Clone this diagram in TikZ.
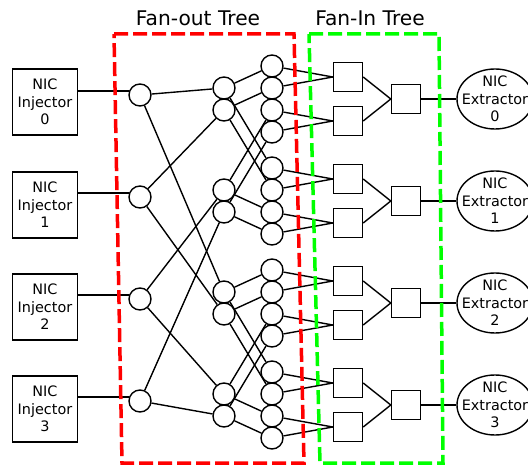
\documentclass[tikz,border=0pt]{standalone}
\usepackage{fontspec}
\setmainfont{DejaVu Sans}
\usepackage{tikz}
\usetikzlibrary{shapes.geometric}

\begin{document}
\begin{tikzpicture}[
			x=1pt, y=-1pt, line width=1.4pt,
			injector/.style={rectangle, draw, minimum width=65pt, minimum height=66pt, inner sep=0pt, align=center, font=\fontsize{14.4}{17.5}\selectfont},
			splitter/.style={circle, draw, minimum size=22pt, inner sep=0pt},
			mergebox/.style={rectangle, draw, minimum size=29pt, inner sep=0pt},
			extractor/.style={ellipse, draw, minimum width=76pt, minimum height=60pt, inner sep=0pt},
			extractor text/.style={align=center, inner sep=0pt, font=\fontsize{14.4}{17.5}\selectfont},
			description/.style={anchor=base, inner sep=0pt, font=\fontsize{20.2}{24}\selectfont},
			fanout border/.style={draw=red, line width=3.5pt, dash pattern=on 14pt off 5pt},
			fanin border/.style={draw=green, line width=3.5pt, dash pattern=on 14pt off 5pt},
			]
			\useasboundingbox (0,0) rectangle (528,465);
			%Nodes
				\node[description]	(fanout-title)	at (198,26)		{Fan-out Tree};
				\node[description]	(fanin-title)	at (370,26)		{Fan-In Tree};
				\node[injector]		(injector-0)	at (45,102)		{NIC\\Injector\\0};
				\node[injector]		(injector-1)	at (45,205)		{NIC\\Injector\\1};
				\node[injector]		(injector-2)	at (45,307)		{NIC\\Injector\\2};
				\node[injector]		(injector-3)	at (45,409)		{NIC\\Injector\\3};
				\node[splitter]		(fanout-0)		at (140,95)		{};
				\node[splitter]		(fanout-1)		at (140,197)	{};
				\node[splitter]		(fanout-2)		at (140,299)	{};
				\node[splitter]		(fanout-3)		at (140,401)	{};
				\node[splitter]		(branch-0)		at (224,88)		{};
				\node[splitter]		(branch-1)		at (224,110)	{};
				\node[splitter]		(branch-2)		at (224,190)	{};
				\node[splitter]		(branch-3)		at (224,212)	{};
				\node[splitter]		(branch-4)		at (224,292)	{};
				\node[splitter]		(branch-5)		at (224,314)	{};
				\node[splitter]		(branch-6)		at (224,394)	{};
				\node[splitter]		(branch-7)		at (224,416)	{};
				\node[splitter]		(leaf-0)		at (272,66)		{};
				\node[splitter]		(leaf-1)		at (272,88)		{};
				\node[splitter]		(leaf-2)		at (272,110)	{};
				\node[splitter]		(leaf-3)		at (272,132)	{};
				\node[splitter]		(leaf-4)		at (272,168)	{};
				\node[splitter]		(leaf-5)		at (272,190)	{};
				\node[splitter]		(leaf-6)		at (272,212)	{};
				\node[splitter]		(leaf-7)		at (272,234)	{};
				\node[splitter]		(leaf-8)		at (272,270)	{};
				\node[splitter]		(leaf-9)		at (272,292)	{};
				\node[splitter]		(leaf-10)		at (272,314)	{};
				\node[splitter]		(leaf-11)		at (272,336)	{};
				\node[splitter]		(leaf-12)		at (272,372)	{};
				\node[splitter]		(leaf-13)		at (272,394)	{};
				\node[splitter]		(leaf-14)		at (272,416)	{};
				\node[splitter]		(leaf-15)		at (272,438)	{};
				\node[mergebox]		(merge-0)		at (348,77)		{};
				\node[mergebox]		(merge-1)		at (348,121)	{};
				\node[mergebox]		(merge-2)		at (348,179)	{};
				\node[mergebox]		(merge-3)		at (348,223)	{};
				\node[mergebox]		(merge-4)		at (348,281)	{};
				\node[mergebox]		(merge-5)		at (348,325)	{};
				\node[mergebox]		(merge-6)		at (348,383)	{};
				\node[mergebox]		(merge-7)		at (348,427)	{};
				\node[mergebox]		(root-0)		at (406,99)		{};
				\node[mergebox]		(root-1)		at (406,201)	{};
				\node[mergebox]		(root-2)		at (406,303)	{};
				\node[mergebox]		(root-3)		at (406,405)	{};
				\node[extractor, label={[extractor text]center:NIC\\Extractor\\0}]	(extractor-0)	at (495,99)		{};
				\node[extractor, label={[extractor text]center:NIC\\Extractor\\1}]	(extractor-1)	at (495,201)	{};
				\node[extractor, label={[extractor text]center:NIC\\Extractor\\2}]	(extractor-2)	at (495,303)	{};
				\node[extractor, label={[extractor text]center:NIC\\Extractor\\3}]	(extractor-3)	at (495,405)	{};

			%Lines
				\draw (injector-0.east |- fanout-0.160) -- (fanout-0.160);
				\draw (injector-1.east |- fanout-1.160) -- (fanout-1.160);
				\draw (injector-2.east |- fanout-2.160) -- (fanout-2.160);
				\draw (injector-3.east |- fanout-3.160) -- (fanout-3.160);
				\draw (fanout-0) -- (branch-0);
				\draw (fanout-0) -- (branch-4);
				\draw (fanout-1) -- (branch-1);
				\draw (fanout-1) -- (branch-5);
				\draw (fanout-2) -- (branch-2);
				\draw (fanout-2) -- (branch-6);
				\draw (fanout-3) -- (branch-3);
				\draw (fanout-3) -- (branch-7);
				\draw (branch-0) -- (leaf-0);
				\draw (branch-0) -- (leaf-4);
				\draw (branch-1) -- (leaf-1);
				\draw (branch-1) -- (leaf-5);
				\draw (branch-2) -- (leaf-2);
				\draw (branch-2) -- (leaf-6);
				\draw (branch-3) -- (leaf-3);
				\draw (branch-3) -- (leaf-7);
				\draw (branch-4) -- (leaf-8);
				\draw (branch-4) -- (leaf-12);
				\draw (branch-5) -- (leaf-9);
				\draw (branch-5) -- (leaf-13);
				\draw (branch-6) -- (leaf-10);
				\draw (branch-6) -- (leaf-14);
				\draw (branch-7) -- (leaf-11);
				\draw (branch-7) -- (leaf-15);
				\draw (leaf-0) -- (merge-0.west);
				\draw (leaf-1) -- (merge-0.west);
				\draw (leaf-2) -- (merge-1.west);
				\draw (leaf-3) -- (merge-1.west);
				\draw (leaf-4) -- (merge-2.west);
				\draw (leaf-5) -- (merge-2.west);
				\draw (leaf-6) -- (merge-3.west);
				\draw (leaf-7) -- (merge-3.west);
				\draw (leaf-8) -- (merge-4.west);
				\draw (leaf-9) -- (merge-4.west);
				\draw (leaf-10) -- (merge-5.west);
				\draw (leaf-11) -- (merge-5.west);
				\draw (leaf-12) -- (merge-6.west);
				\draw (leaf-13) -- (merge-6.west);
				\draw (leaf-14) -- (merge-7.west);
				\draw (leaf-15) -- (merge-7.west);
				\draw (merge-0.east) -- (root-0.west);
				\draw (merge-1.east) -- (root-0.west);
				\draw (merge-2.east) -- (root-1.west);
				\draw (merge-3.east) -- (root-1.west);
				\draw (merge-4.east) -- (root-2.west);
				\draw (merge-5.east) -- (root-2.west);
				\draw (merge-6.east) -- (root-3.west);
				\draw (merge-7.east) -- (root-3.west);
				\draw (root-0) -- (extractor-0);
				\draw (root-1) -- (extractor-1);
				\draw (root-2) -- (extractor-2);
				\draw (root-3) -- (extractor-3);

			%Borders
				\draw[fanout border] (114,34) -- (294,34) -- (304,463) -- (122,463) -- cycle;
				\draw[fanin border] (309,34) -- (439,34) -- (443,463) -- (320,463) -- cycle;
		\end{tikzpicture}
\end{document}
